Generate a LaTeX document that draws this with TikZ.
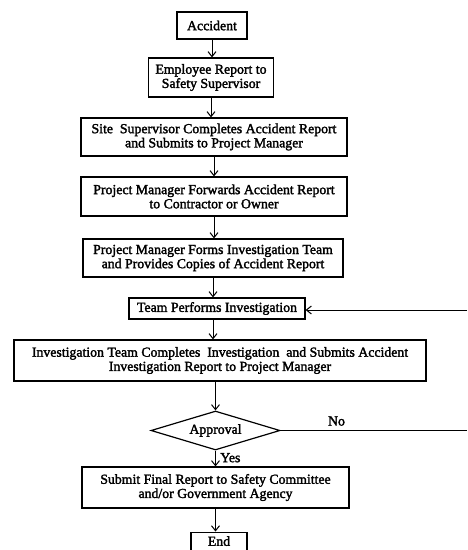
\documentclass[tikz,border=0pt]{standalone}
\usepackage{fontspec}
\setmainfont{Liberation Serif}
\newfontfamily\scanfont{Liberation Serif}[FakeBold=2]
\usetikzlibrary{arrows.meta,shapes.geometric}
\begin{document}
\begin{tikzpicture}[x=1pt,y=-1pt,
  every node/.style={font=\scanfont\fontsize{13.8}{14.2}\selectfont},
  box/.style={draw,line width=1.2pt,inner sep=0pt,align=center},
  dec/.style={draw,line width=1.2pt,diamond,inner sep=0pt,aspect=3.3},
  arr/.style={line width=1pt,-{Straight Barb[length=5pt,width=8pt,line width=1pt]}},
  ln/.style={line width=1pt}]
\useasboundingbox (0,0) rectangle (467,550);
\node[box,minimum width=70pt,minimum height=27pt] (acc) at (212,25.5) {Accident};
\node[box,minimum width=125pt,minimum height=39pt] (emp) at (211,77.5) {Employee Report to\\Safety Supervisor};
\node[box,minimum width=266pt,minimum height=38pt] (site) at (214,137) {Site\ \ Supervisor Completes Accident Report\\and Submits to Project Manager};
\node[box,minimum width=266pt,minimum height=39pt] (fwd) at (214,196.5) {Project Manager Forwards Accident Report\\to Contractor or Owner};
\node[box,minimum width=260pt,minimum height=38pt] (forms) at (213,258) {Project Manager Forms Investigation Team\\and Provides Copies of Accident Report};
\node[box,minimum width=176pt,minimum height=21pt] (team) at (217,308.5) {Team Performs Investigation};
\node[box,minimum width=412pt,minimum height=41pt] (comp) at (220,360.5) {Investigation Team Completes\ \ Investigation\ \ and Submits Accident\\Investigation Report to Project Manager};
\node[dec,minimum width=129pt,minimum height=39pt] (appr) at (215.5,430.5) {Approval};
\node[box,minimum width=267pt,minimum height=41pt] (sub) at (215.5,487.5) {Submit Final Report to Safety Committee\\and/or Government Agency};
\node[box,minimum width=56pt,minimum height=18pt,anchor=north] (end) at (219,531.5) {End};
\coordinate (rno) at (467,430.5);
\coordinate (rback) at (467,310);
\draw[arr] (acc.south) -- (acc.south |- emp.north);
\draw[arr] (emp.south) -- (emp.south |- site.north);
\draw[arr] (site.south) -- (site.south |- fwd.north);
\draw[arr] (fwd.south) -- (fwd.south |- forms.north);
\draw[arr] (forms.south) -- (forms.south |- team.north);
\draw[arr] (forms.south |- team.south) -- (forms.south |- comp.north);
\draw[arr] (appr.north |- comp.south) -- (appr.north);
\draw[arr] (appr.south) -- (appr.south |- sub.north) node[pos=0.45,right=1pt] {Yes};
\draw[arr] (sub.south) -- (sub.south |- end.north);
\draw[ln] (appr.east) -- (rno) node[pos=0.3,above=1pt] {No};
\draw[arr] (rback) -- (team.east |- rback);
\end{tikzpicture}
\end{document}
